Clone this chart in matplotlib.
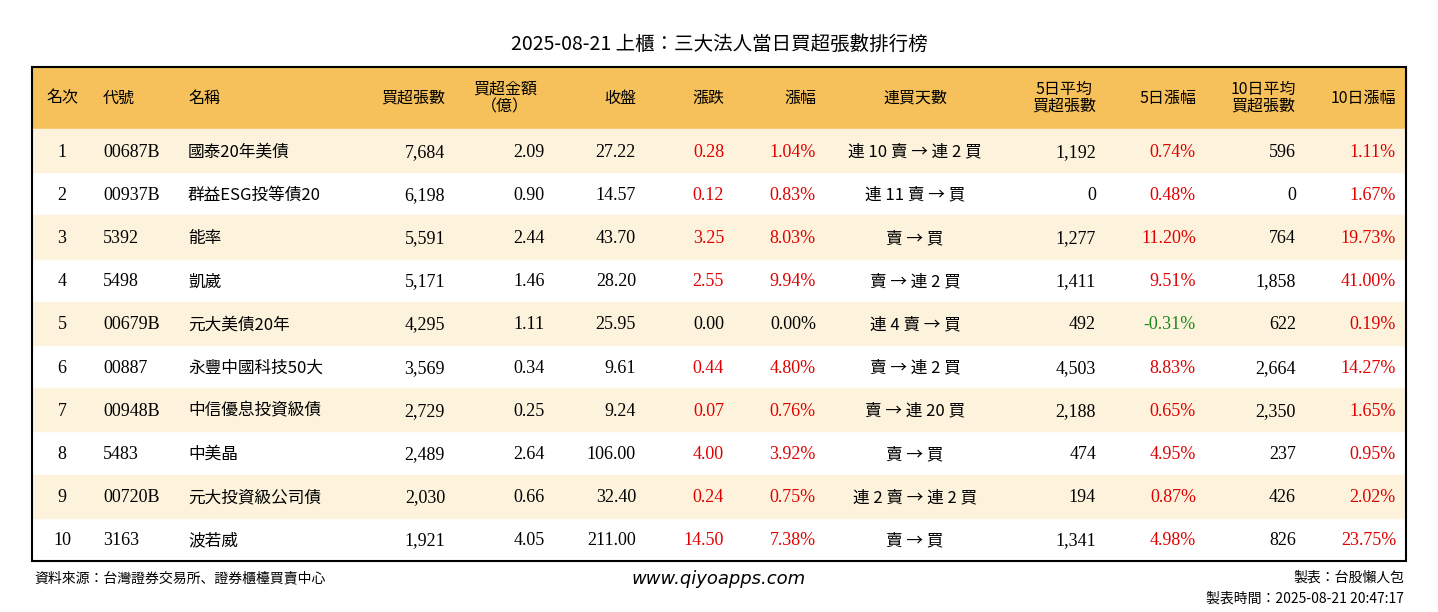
import matplotlib
matplotlib.use("Agg")
import matplotlib.pyplot as plt
from matplotlib.patches import Rectangle
from matplotlib import font_manager

title = "2025-08-21 上櫃：三大法人當日買超張數排行榜"
ranks = [1, 2, 3, 4, 5, 6, 7, 8, 9, 10]
codes = ["00687B", "00937B", "5392", "5498", "00679B", "00887", "00948B", "5483", "00720B", "3163"]
names = ["國泰20年美債", "群益ESG投等債20", "能率", "凱崴", "元大美債20年", "永豐中國科技50大",
         "中信優息投資級債", "中美晶", "元大投資級公司債", "波若威"]
net_buy = [7684, 6198, 5591, 5171, 4295, 3569, 2729, 2489, 2030, 1921]
amount = [2.09, 0.90, 2.44, 1.46, 1.11, 0.34, 0.25, 2.64, 0.66, 4.05]
close = [27.22, 14.57, 43.70, 28.20, 25.95, 9.61, 9.24, 106.00, 32.40, 211.00]
change = [0.28, 0.12, 3.25, 2.55, 0.00, 0.44, 0.07, 4.00, 0.24, 14.50]
pct = [1.04, 0.83, 8.03, 9.94, 0.00, 4.80, 0.76, 3.92, 0.75, 7.38]
streak = ["連 10 賣 → 連 2 買", "連 11 賣 → 買", "賣 → 買", "賣 → 連 2 買", "連 4 賣 → 買",
          "賣 → 連 2 買", "賣 → 連 20 買", "賣 → 買", "連 2 賣 → 連 2 買", "賣 → 買"]
avg5 = [1192, 0, 1277, 1411, 492, 4503, 2188, 474, 194, 1341]
pct5 = [0.74, 0.48, 11.20, 9.51, -0.31, 8.83, 0.65, 4.95, 0.87, 4.98]
avg10 = [596, 0, 764, 1858, 622, 2664, 2350, 237, 426, 826]
pct10 = [1.11, 1.67, 19.73, 41.00, 0.19, 14.27, 1.65, 0.95, 2.02, 23.75]
headers = ["名次", "代號", "名稱", "買超張數", "買超金額\n（億）", "收盤", "漲跌", "漲幅", "連買天數",
           "5日平均\n買超張數", "5日漲幅", "10日平均\n買超張數", "10日漲幅"]

# find a CJK font file directly (name lookup fell back to DejaVu)
cjk_files = [f for f in font_manager.findSystemFonts() if 'CJK' in f or 'cjk' in f.lower()]
cjk_files.sort(key=lambda f: (('Regular' not in f), ('TC' not in f and 'tc' not in f), f))
CJK = font_manager.FontProperties(fname=cjk_files[0]) if cjk_files else font_manager.FontProperties(family='Noto Sans CJK TC')
SERIF = font_manager.FontProperties(family='Liberation Serif')

def col(v):
    return '#e00000' if v > 0 else ('#1a8a1a' if v < 0 else 'black')

def fam(s):
    return CJK if any(ord(c) > 127 for c in s) else SERIF

fig = plt.figure(figsize=(14.38, 6.12), dpi=100)
ax = fig.add_axes([0, 0, 1, 1])
ax.set_xlim(0, 1438)
ax.set_ylim(612, 0)
ax.axis('off')

def put(x, y, s, ha, fs=13, color='black', **kw):
    fp = fam(s).copy()
    fp.set_size(fs)
    ax.text(x, y, s, ha=ha, va='baseline', color=color, fontproperties=fp, **kw)

L, R, top, htop, rh = 32, 1406, 67, 129, 43.2
ax.add_patch(Rectangle((L, top), R - L, htop - top, color='#f6c15b', zorder=0))
for i in range(len(ranks)):
    if i % 2 == 0:
        ax.add_patch(Rectangle((L, htop + i * rh), R - L, rh, color='#fdf3dc', zorder=0))
bottom = htop + rh * len(ranks)
ax.add_patch(Rectangle((L, top), R - L, bottom - top, fill=False, lw=1.5, ec='black', zorder=3))

put(719, 50, title, 'center', fs=14)

hpos = [(62, 'center'), (103, 'left'), (188, 'left'), (445, 'right'), (505, 'center'), (636, 'right'),
        (724, 'right'), (816, 'right'), (915, 'center'), (1096, 'right'), (1196, 'right'),
        (1296, 'right'), (1396, 'right')]
hfp = CJK.copy()
hfp.set_size(11.5)
for (x, ha), h in zip(hpos, headers):
    ax.text(x, (top + htop) / 2, h, ha=ha, va='center', linespacing=1.0,
            fontproperties=hfp, multialignment='center')

for i in range(len(ranks)):
    y = htop + rh * (i + 0.5) + 6
    put(62, y, str(ranks[i]), 'center')
    put(103, y, codes[i], 'left')
    put(188, y, names[i], 'left', fs=12)
    put(445, y, f"{net_buy[i]:,}", 'right')
    put(545, y, f"{amount[i]:.2f}", 'right')
    put(636, y, f"{close[i]:.2f}", 'right')
    put(724, y, f"{change[i]:.2f}", 'right', color=col(change[i]))
    put(816, y, f"{pct[i]:.2f}%", 'right', color=col(pct[i]))
    put(915, y, streak[i], 'center', fs=12)
    put(1096, y, f"{avg5[i]:,}", 'right')
    put(1196, y, f"{pct5[i]:.2f}%", 'right', color=col(pct5[i]))
    put(1296, y, f"{avg10[i]:,}", 'right')
    put(1396, y, f"{pct10[i]:.2f}%", 'right', color=col(pct10[i]))

put(34, 582, "資料來源：台灣證券交易所、證券櫃檯買賣中心", 'left', fs=10)
ax.text(719, 579, "www.qiyoapps.com", ha='center', va='center', fontsize=13, style='italic',
        family='DejaVu Sans')
put(1404, 582, "製表：台股懶人包", 'right', fs=10)
put(1404, 603, "製表時間：2025-08-21 20:47:17", 'right', fs=10)

fig.savefig("out.png", dpi=100)
